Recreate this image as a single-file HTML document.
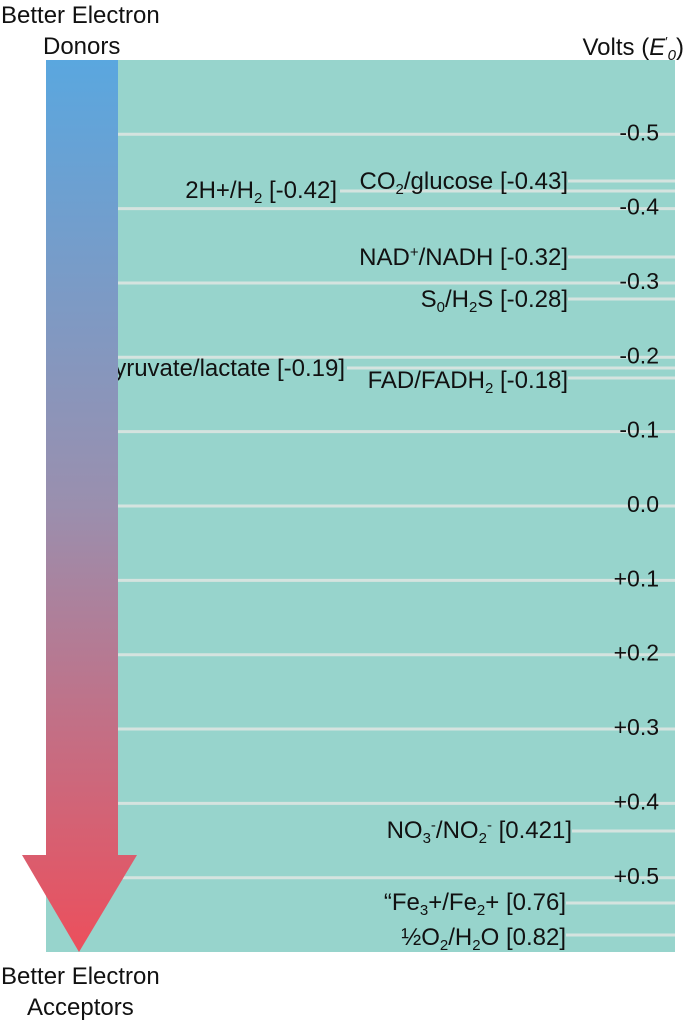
<!DOCTYPE html>
<html><head><meta charset="utf-8"><style>
html,body{margin:0;padding:0;background:#fff;}
svg{display:block;font-family:"Liberation Sans",sans-serif;}
</style></head><body>
<svg width="693" height="1024" viewBox="0 0 693 1024">
<defs>
<linearGradient id="g" x1="0" y1="60" x2="0" y2="952" gradientUnits="userSpaceOnUse">
<stop offset="0" stop-color="#5aa7df"/><stop offset="0.5" stop-color="#9a8fae"/><stop offset="1" stop-color="#ec4f5c"/>
</linearGradient>
</defs>
<rect x="46" y="60" width="629" height="892" fill="#97d4cc"/>
<g id="ticks"></g>
<g stroke="#d5e3df" stroke-width="3">
<line x1="568" x2="675" y1="181" y2="181"/>
<line x1="340" x2="675" y1="191" y2="191"/>
<line x1="568" x2="675" y1="257" y2="257"/>
<line x1="568" x2="675" y1="299" y2="299"/>
<line x1="347" x2="675" y1="368" y2="368"/>
<line x1="568" x2="675" y1="378" y2="378"/>
<line x1="572" x2="675" y1="831" y2="831"/>
<line x1="566" x2="675" y1="903" y2="903"/>
<line x1="566" x2="675" y1="935" y2="935"/>
</g>
<g font-size="24" fill="#111" text-anchor="end">
<text x="568" y="189">CO<tspan font-size="15" dy="5">2</tspan><tspan dy="-5">/glucose [-0.43]</tspan></text>
<text x="337" y="198">2H+/H<tspan font-size="15" dy="5">2</tspan><tspan dy="-5"> [-0.42]</tspan></text>
<text x="568" y="265">NAD<tspan font-size="15" dy="-8">+</tspan><tspan dy="8">/NADH [-0.32]</tspan></text>
<text x="568" y="307">S<tspan font-size="15" dy="5">0</tspan><tspan dy="-5">/H</tspan><tspan font-size="15" dy="5">2</tspan><tspan dy="-5">S [-0.28]</tspan></text>
<text x="345" y="376">Pyruvate/lactate [-0.19]</text>
<text x="568" y="388">FAD/FADH<tspan font-size="15" dy="5">2</tspan><tspan dy="-5">  [-0.18]</tspan></text>
<text x="572" y="838">NO<tspan font-size="15" dy="5">3</tspan><tspan font-size="15" dy="-13">-</tspan><tspan dy="8">/NO</tspan><tspan font-size="15" dy="5">2</tspan><tspan font-size="15" dy="-13">-</tspan><tspan dy="8">  [0.421]</tspan></text>
<text x="566" y="910">“Fe<tspan font-size="15" dy="5">3</tspan><tspan dy="-5">+/Fe</tspan><tspan font-size="15" dy="5">2</tspan><tspan dy="-5">+ [0.76]</tspan></text>
<text x="566" y="945">½O<tspan font-size="15" dy="5">2</tspan><tspan dy="-5">/H</tspan><tspan font-size="15" dy="5">2</tspan><tspan dy="-5">O [0.82]</tspan></text>
</g>
<g>
<rect x="46" y="60" width="72" height="796" fill="url(#g)"/>
<polygon points="22,855 137,855 79,952" fill="url(#g)"/>
</g>
<g font-size="24" fill="#111">
<text x="1" y="23">Better Electron</text>
<text x="43" y="54">Donors</text>
<text x="1" y="984">Better Electron</text>
<text x="27" y="1015">Acceptors</text>
<text x="684" y="55" text-anchor="end">Volts (<tspan font-style="italic">E</tspan><tspan font-size="13" dy="-9">′</tspan><tspan font-size="15" font-style="italic" dy="14">0</tspan><tspan dy="-5">)</tspan></text>
</g>
</svg>
<script>
const tickValues = [-0.5,-0.4,-0.3,-0.2,-0.1,0.0,0.1,0.2,0.3,0.4,0.5];
const tickLabels = ["-0.5","-0.4","-0.3","-0.2","-0.1","0.0","+0.1","+0.2","+0.3","+0.4","+0.5"];
function yScale(v){ return 506 + v*743.5; }
const g = document.getElementById('ticks');
const NS = 'http://www.w3.org/2000/svg';
tickValues.forEach((v,i)=>{
  const y = yScale(v);
  const ln = document.createElementNS(NS,'line');
  
  
  ln.setAttribute('x1',117); ln.setAttribute('x2',675);
  ln.setAttribute('y1',y); ln.setAttribute('y2',y);
  ln.setAttribute('stroke','#d5e3df'); ln.setAttribute('stroke-width','3');
  g.appendChild(ln);
  const t = document.createElementNS(NS,'text');
  
  
  t.setAttribute('x',659); t.setAttribute('y',y+6);
  t.setAttribute('text-anchor','end'); t.setAttribute('font-size','23'); t.setAttribute('fill','#111');
  t.textContent = tickLabels[i];
  g.appendChild(t);
});
</script>
</body></html>
